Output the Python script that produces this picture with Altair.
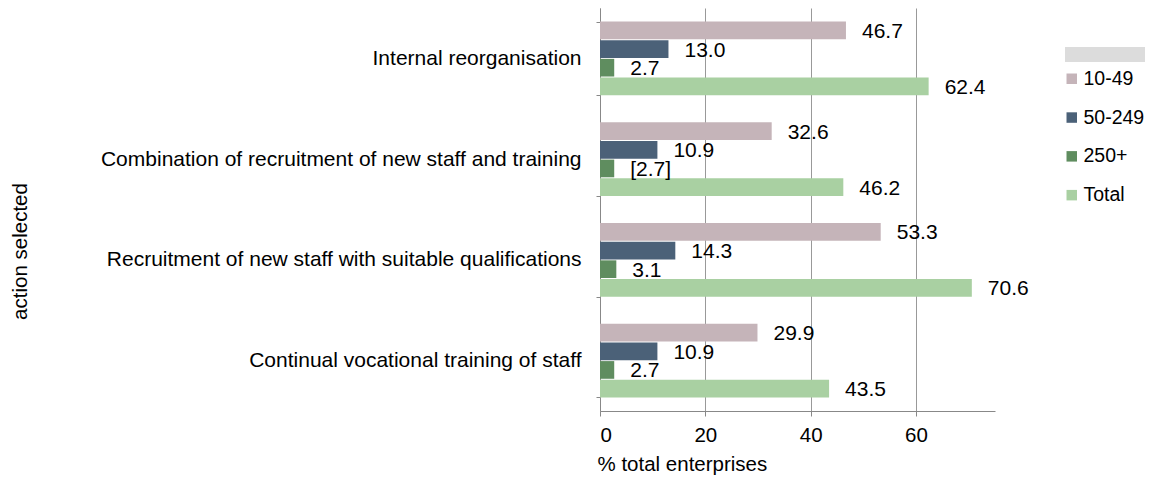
import altair as alt
import pandas as pd

categories = [
    "Internal reorganisation",
    "Combination of recruitment of new staff and training",
    "Recruitment of new staff with suitable qualifications",
    "Continual vocational training of staff",
]
series = ["10-49", "50-249", "250+", "Total"]
values = {
    "10-49": [46.7, 32.6, 53.3, 29.9],
    "50-249": [13.0, 10.9, 14.3, 10.9],
    "250+": [2.7, 2.7, 3.1, 2.7],
    "Total": [62.4, 46.2, 70.6, 43.5],
}
labels = {
    "10-49": ["46.7", "32.6", "53.3", "29.9"],
    "50-249": ["13.0", "10.9", "14.3", "10.9"],
    "250+": ["2.7", "[2.7]", "3.1", "2.7"],
    "Total": ["62.4", "46.2", "70.6", "43.5"],
}
colors = ["#c5b4b9", "#4b6178", "#5f8d5f", "#a9d0a2"]

rows = []
for s in series:
    for i, c in enumerate(categories):
        rows.append({"action": c, "size": s, "value": values[s][i], "label": labels[s][i]})
df = pd.DataFrame(rows)

FONT = "Liberation Sans"

y_enc = alt.Y(
    "action:N",
    sort=categories,
    scale=alt.Scale(paddingInner=0.27, paddingOuter=0.135),
    axis=alt.Axis(
        title="action selected",
        titleFont=FONT,
        titleFontSize=20.5,
        titleFontWeight="normal",
        titleColor="#000",
        titleX=-570,
        titleY=243,
        titleAngle=-90,
        labelFont=FONT,
        labelFontSize=21,
        labelColor="#000",
        labelPadding=15,
        labelLimit=700,
        tickBand="extent",
        tickSize=4,
        tickColor="#888",
        domainColor="#888",
        grid=False,
    ),
)
yoff = alt.YOffset("size:N", sort=series, scale=alt.Scale(paddingInner=0.05))
x_enc = alt.X(
    "value:Q",
    scale=alt.Scale(domain=[0, 75], nice=False),
    axis=alt.Axis(
        title="% total enterprises",
        values=[0, 20, 40, 60],
        titleFont=FONT,
        titleFontSize=20.5,
        titleFontWeight="normal",
        titleColor="#000",
        titleAnchor="start",
        titleAlign="left",
        titleX=-3,
        titleY=53,
        titleBaseline="middle",
        labelFont=FONT,
        labelFontSize=20.5,
        labelColor="#000",
        labelPadding=9,
        tickSize=5,
        tickColor="#888",
        domainColor="#888",
        gridColor="#999",
        grid=True,
    ),
)
color_enc = alt.Color(
    "size:N",
    sort=series,
    scale=alt.Scale(domain=series, range=colors),
    legend=alt.Legend(
        title=None,
        orient="none",
        legendX=462,
        legendY=61,
        labelFont=FONT,
        labelFontSize=19.5,
        labelColor="#000",
        symbolType="square",
        symbolSize=110,
        symbolStrokeWidth=0,
        rowPadding=17.8,
        labelOffset=2,
    ),
)

bars = alt.Chart(df).mark_bar().encode(y=y_enc, yOffset=yoff, x=x_enc, color=color_enc)
text = alt.Chart(df).mark_text(
    align="left", baseline="middle", dx=16, dy=1.5, font=FONT, fontSize=21, color="#000"
).encode(y=alt.Y("action:N", sort=categories), yOffset=yoff, x="value:Q", text="label:N")

box = alt.Chart(pd.DataFrame({"a": [0]})).mark_rect(color="#dcdcdc", clip=False).encode(
    x=alt.value(465), x2=alt.value(560), y=alt.value(39), y2=alt.value(54)
)

chart = (
    alt.layer(bars, text, box)
    .properties(
        width=395,
        height=403,
        autosize=alt.AutoSizeParams(type="none"),
        padding={"left": 592, "top": 0, "right": 150, "bottom": 64},
    )
    .configure_view(stroke=None)
)
chart.save("out.html", embed_options={"renderer": "svg", "actions": False})
